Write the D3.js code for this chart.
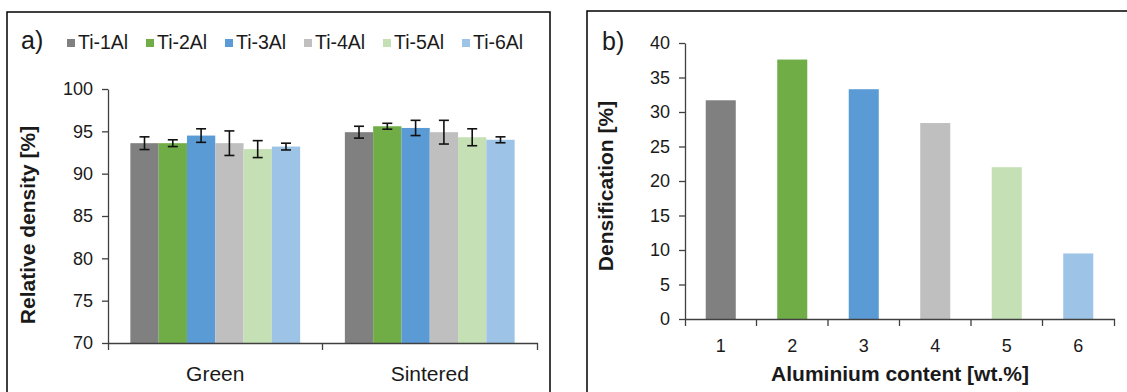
<!DOCTYPE html>
<html>
<head>
<meta charset="utf-8">
<script src="https://cdn.jsdelivr.net/npm/d3@7"></script>
<style>
    body { margin: 0; background: #fff; }
    svg { display: block; font-family: "Liberation Sans", Arial, sans-serif; }
</style>
</head>
<body>
<div id="chart"></div>
<script>
// series / categories
const alloys = ["Ti-1Al", "Ti-2Al", "Ti-3Al", "Ti-4Al", "Ti-5Al", "Ti-6Al"];
const alloyColors = ["#808080", "#70ad47", "#5b9bd5", "#bfbfbf", "#c5e0b4", "#9dc3e6"];
const states = ["Green", "Sintered"];

// panel a) relative density
const greenDensity = [93.6, 93.6, 94.5, 93.6, 92.9, 93.2];
const greenError = [0.75, 0.4, 0.8, 1.45, 1.0, 0.4];
const sinteredDensity = [94.9, 95.6, 95.4, 94.9, 94.3, 94.0];
const sinteredError = [0.7, 0.35, 0.9, 1.4, 1.0, 0.35];
const densityTicks = [70, 75, 80, 85, 90, 95, 100];

// panel b) densification
const aluminiumContent = ["1", "2", "3", "4", "5", "6"];
const densification = [31.7, 37.6, 33.3, 28.4, 22.0, 9.5];
const densificationTicks = [0, 5, 10, 15, 20, 25, 30, 35, 40];

const svg = d3.select("#chart")
    .append("svg")
    .attr("width", 1127)
    .attr("height", 392);

function styleAxis(g, size) {
    g.select(".domain").attr("stroke", "#404040").attr("stroke-width", 1.3);
    g.selectAll(".tick line").attr("stroke", "#404040").attr("stroke-width", 1.3);
    g.selectAll(".tick text")
        .attr("fill", "#1a1a1a")
        .style("font-size", size + "px")
        .style("font-family", "Liberation Sans, Arial, sans-serif");
}

function drawDensity() {
    // frame
    svg.append("rect")
        .attr("x", 7).attr("y", 12)
        .attr("width", 543).attr("height", 400)
        .attr("fill", "none").attr("stroke", "#000").attr("stroke-width", 1.5);

    const rows = states.map((s, i) => ({
        state: s,
        values: i === 0 ? greenDensity : sinteredDensity,
        errors: i === 0 ? greenError : sinteredError
    }));

    const x0 = d3.scaleBand().domain(states).range([108, 537]).padding(0);
    const x1 = d3.scaleBand().domain(alloys).range([0, x0.bandwidth()])
        .paddingInner(0).paddingOuter(0.79);
    const y = d3.scaleLinear().domain([70, 100]).range([343, 89]);

    // bars
    const grp = svg.append("g")
        .selectAll("g")
        .data(rows)
        .join("g")
        .attr("transform", d => `translate(${x0(d.state)},0)`);

    grp.selectAll("rect")
        .data(d => d.values.map((v, i) => ({alloy: alloys[i], value: v, err: d.errors[i], color: alloyColors[i]})))
        .join("rect")
        .attr("x", d => x1(d.alloy))
        .attr("y", d => y(d.value))
        .attr("width", x1.bandwidth())
        .attr("height", d => y(70) - y(d.value))
        .attr("fill", d => d.color);

    // error bars
    const eb = grp.selectAll("g.err")
        .data(d => d.values.map((v, i) => ({alloy: alloys[i], value: v, err: d.errors[i]})))
        .join("g")
        .attr("class", "err")
        .attr("stroke", "#111")
        .attr("stroke-width", 1.6);
    const cx = d => x1(d.alloy) + x1.bandwidth() / 2;
    eb.append("line")
        .attr("x1", cx).attr("x2", cx)
        .attr("y1", d => y(d.value - d.err)).attr("y2", d => y(d.value + d.err));
    eb.append("line")
        .attr("x1", d => cx(d) - 5).attr("x2", d => cx(d) + 5)
        .attr("y1", d => y(d.value + d.err)).attr("y2", d => y(d.value + d.err));
    eb.append("line")
        .attr("x1", d => cx(d) - 5).attr("x2", d => cx(d) + 5)
        .attr("y1", d => y(d.value - d.err)).attr("y2", d => y(d.value - d.err));

    // axes
    svg.append("g")
        .attr("transform", "translate(108,0)")
        .call(d3.axisLeft(y).tickValues(densityTicks).tickSize(6).tickSizeOuter(0).tickPadding(9))
        .call(g => styleAxis(g, 18));

    svg.append("g")
        .attr("transform", "translate(0,343)")
        .call(d3.axisBottom(x0).tickSize(0).tickSizeOuter(7).tickPadding(23))
        .call(g => styleAxis(g, 21));

    // category boundary ticks
    svg.append("g")
        .selectAll("line")
        .data(states.slice(1))
        .join("line")
        .attr("x1", d => x0(d)).attr("x2", d => x0(d))
        .attr("y1", 343).attr("y2", 350)
        .attr("stroke", "#404040").attr("stroke-width", 1.3);

    // y label
    svg.append("text")
        .attr("transform", "translate(35,225) rotate(-90)")
        .attr("text-anchor", "middle")
        .style("font-size", "21px")
        .style("font-weight", "bold")
        .attr("fill", "#1a1a1a")
        .text("Relative density [%]");

    svg.append("text")
        .attr("x", 21).attr("y", 49)
        .style("font-size", "25px")
        .attr("fill", "#1a1a1a")
        .text("a)");

    // legend
    const legend = svg.selectAll(".legend")
        .data(alloys)
        .join("g")
        .attr("class", "legend")
        .attr("transform", (d, i) => `translate(${67 + i * 79},39)`);

    legend.append("rect")
        .attr("width", 8).attr("height", 8)
        .attr("fill", (d, i) => alloyColors[i]);

    legend.append("text")
        .attr("x", 11).attr("y", 10)
        .style("font-size", "19.5px")
        .attr("fill", "#1a1a1a")
        .text(d => d);
}

function drawDensification() {
    svg.append("rect")
        .attr("x", 587).attr("y", 11)
        .attr("width", 600).attr("height", 400)
        .attr("fill", "none").attr("stroke", "#000").attr("stroke-width", 1.5);

    const x = d3.scaleBand().domain(aluminiumContent).range([685, 1114])
        .paddingInner(0.58).paddingOuter(0.29);
    const y = d3.scaleLinear().domain([0, 40]).range([319, 43]);

    svg.append("g")
        .selectAll("rect")
        .data(densification)
        .join("rect")
        .attr("x", (d, i) => x(aluminiumContent[i]))
        .attr("y", d => y(d))
        .attr("width", x.bandwidth())
        .attr("height", d => y(0) - y(d))
        .attr("fill", (d, i) => alloyColors[i]);

    svg.append("g")
        .attr("transform", "translate(685,0)")
        .call(d3.axisLeft(y).tickValues(densificationTicks).tickSize(6).tickSizeOuter(0).tickPadding(9))
        .call(g => styleAxis(g, 18));

    svg.append("g")
        .attr("transform", "translate(0,319)")
        .call(d3.axisBottom(x).tickSize(0).tickSizeOuter(7).tickPadding(20))
        .call(g => styleAxis(g, 18));

    // ticks between categories
    svg.append("g")
        .selectAll("line")
        .data(aluminiumContent.slice(1))
        .join("line")
        .attr("x1", d => x(d) - x.step() * x.paddingInner() / 2)
        .attr("x2", d => x(d) - x.step() * x.paddingInner() / 2)
        .attr("y1", 319).attr("y2", 326)
        .attr("stroke", "#404040").attr("stroke-width", 1.3);

    svg.append("text")
        .attr("transform", "translate(613,186) rotate(-90)")
        .attr("text-anchor", "middle")
        .style("font-size", "21px")
        .style("font-weight", "bold")
        .attr("fill", "#1a1a1a")
        .text("Densification [%]");

    svg.append("text")
        .attr("x", 900).attr("y", 381)
        .attr("text-anchor", "middle")
        .style("font-size", "21px")
        .style("font-weight", "bold")
        .attr("fill", "#1a1a1a")
        .text("Aluminium content [wt.%]");

    svg.append("text")
        .attr("x", 602).attr("y", 50)
        .style("font-size", "25px")
        .attr("fill", "#1a1a1a")
        .text("b)");
}

drawDensity();
drawDensification();
</script>
</body>
</html>
